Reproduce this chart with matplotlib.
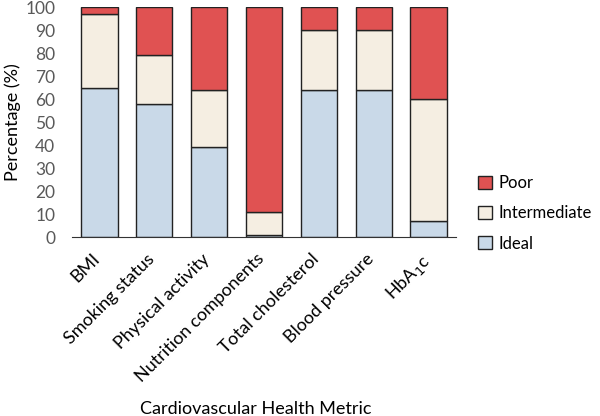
import numpy as np
import matplotlib.pyplot as plt
import matplotlib.patches as mpatches
from matplotlib.transforms import ScaledTranslation

plt.rcParams['font.family'] = ['Lato', 'DejaVu Sans']

metrics = ['BMI', 'Smoking status', 'Physical activity', 'Nutrition components',
           'Total cholesterol', 'Blood pressure', 'HbA$_1$c']
ideal = [65, 58, 39, 1, 64, 64, 7]
intermediate = [32, 21, 25, 10, 26, 26, 53]
poor = [3, 21, 36, 89, 10, 10, 40]

c_ideal = '#c9d9e8'
c_inter = '#f5eee2'
c_poor = '#e05252'

fig = plt.figure(figsize=(6, 4.16), dpi=100)
ax = fig.add_axes([0.12, 0.43, 0.64, 0.553])

x = np.arange(len(metrics))
bottom2 = np.array(ideal) + np.array(intermediate)
ax.bar(x, ideal, 0.66, color=c_ideal, edgecolor='#222222', linewidth=1)
ax.bar(x, intermediate, 0.66, bottom=ideal, color=c_inter, edgecolor='#222222', linewidth=1)
ax.bar(x, poor, 0.66, bottom=bottom2, color=c_poor, edgecolor='#222222', linewidth=1)

ax.set_xlim(-0.5, 6.5)
ax.set_ylim(0, 100)
ax.set_yticks(range(0, 101, 10))
ax.tick_params(axis='y', length=0, labelsize=12.5, labelcolor='#595959', pad=12)
ax.tick_params(axis='x', length=0, labelsize=13, pad=4)
ax.set_xticks(x)
ax.set_xticklabels(metrics, rotation=45, ha='right', rotation_mode='anchor')
off = ScaledTranslation(-0.08, -0.08, fig.dpi_scale_trans)
for lbl in ax.get_xticklabels():
    lbl.set_transform(lbl.get_transform() + off)
for s in ['top', 'right', 'left']:
    ax.spines[s].set_visible(False)
ax.spines['bottom'].set_color('#333333')
ax.set_ylabel('Percentage (%)', fontsize=13, labelpad=3)
fig.text(0.427, 0.005, 'Cardiovascular Health Metric', ha='center', fontsize=13)

leg1 = mpatches.Patch(facecolor=c_poor, edgecolor='#222222', label='Poor')
leg2 = mpatches.Patch(facecolor=c_inter, edgecolor='#222222', label='Intermediate')
leg3 = mpatches.Patch(facecolor=c_ideal, edgecolor='#222222', label='Ideal')
fig.legend(handles=[leg1, leg2, leg3], loc='center left', bbox_to_anchor=(0.772, 0.487),
           frameon=False, fontsize=12, handlelength=0.8, handleheight=0.8,
           handletextpad=0.4, labelspacing=0.85)

plt.savefig('out.png')
